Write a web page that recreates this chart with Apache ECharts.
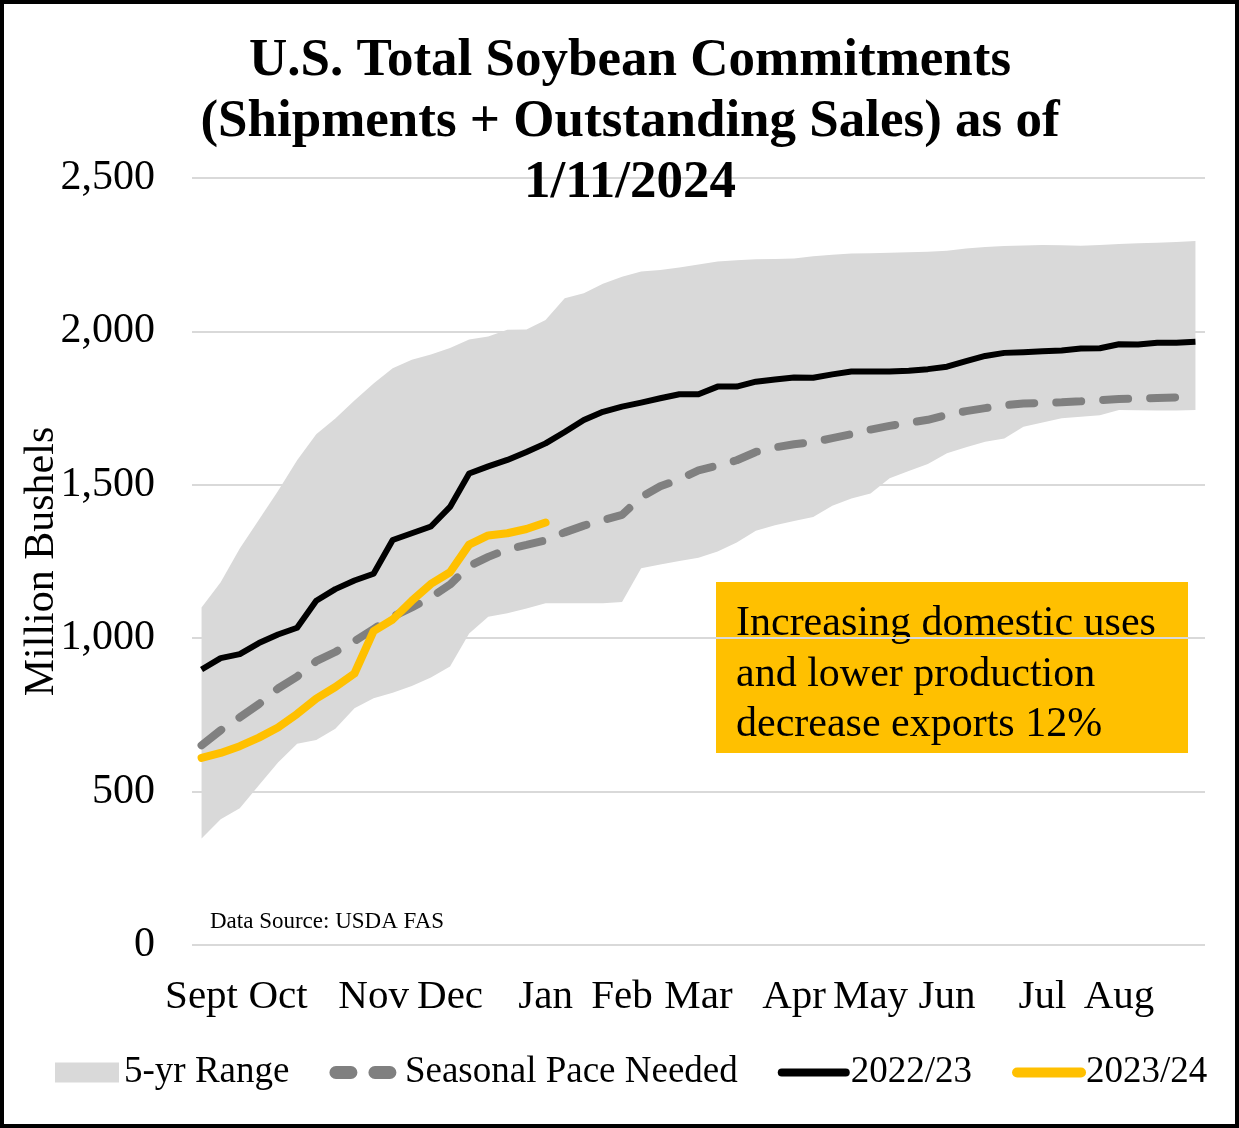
<!DOCTYPE html>
<html>
<head>
<meta charset="utf-8">
<script src="https://cdn.jsdelivr.net/npm/echarts@6/dist/echarts.min.js"></script>
<style>
  html, body { margin: 0; padding: 0; background: #fff; }
  #wrap { position: relative; width: 1239px; height: 1128px; }
  #chart { position: absolute; left: 0; top: 0; width: 1239px; height: 1128px; }
  #frame { position: absolute; left: 0; top: 0; width: 1239px; height: 1128px; box-sizing: border-box; border: 4px solid #000; pointer-events: none; }
</style>
</head>
<body>
<div id="wrap"><div id="chart"></div><div id="frame"></div></div>
<script>
// Weekly categories of the marketing year (Sept .. Aug)
const weeks = ['W1','W2','W3','W4','W5','W6','W7','W8','W9','W10','W11','W12','W13','W14','W15','W16','W17','W18','W19','W20','W21','W22','W23','W24','W25','W26','W27','W28','W29','W30','W31','W32','W33','W34','W35','W36','W37','W38','W39','W40','W41','W42','W43','W44','W45','W46','W47','W48','W49','W50','W51','W52','W53'];
// Month tick labels and the week index where each appears
const monthLabels = ['Sept','Oct','Nov','Dec','Jan','Feb','Mar','Apr','May','Jun','Jul','Aug'];
const monthWeekIndex = [0,4,9,13,18,22,26,31,35,39,44,48];
// Y axis ticks
const yTicks = [0, 500, 1000, 1500, 2000, 2500];

// 5-year range (million bushels)
const rangeLow = [347,410,446,521,595,656,668,705,772,804,822,844,872,908,1015,1070,1081,1097,1114,1114,1114,1114,1118,1228,1240,1252,1262,1283,1312,1350,1368,1382,1395,1432,1455,1472,1521,1545,1568,1603,1622,1640,1651,1689,1703,1717,1722,1727,1744,1743,1742,1742,1744];
const rangeHigh = [1100,1182,1292,1386,1480,1580,1665,1716,1775,1830,1880,1908,1925,1946,1974,1983,2005,2006,2037,2108,2124,2155,2178,2195,2200,2208,2218,2228,2232,2235,2236,2238,2245,2250,2254,2255,2256,2258,2260,2263,2270,2275,2278,2280,2282,2281,2279,2282,2285,2287,2289,2291,2295];
// Seasonal pace needed
const seasonalPace = [651,700,742,785,836,875,925,955,990,1030,1070,1100,1133,1175,1235,1265,1290,1304,1319,1345,1367,1385,1402,1460,1495,1518,1547,1563,1580,1607,1622,1632,1639,1652,1665,1680,1692,1702,1712,1728,1740,1750,1759,1765,1767,1769,1772,1776,1780,1781,1783,1785,1787];
// 2022/23 commitments
const my2022 = [898,935,948,984,1012,1034,1122,1160,1188,1210,1320,1342,1364,1428,1537,1560,1581,1607,1635,1672,1711,1738,1755,1768,1782,1795,1795,1820,1820,1836,1843,1850,1849,1860,1869,1869,1869,1872,1877,1885,1903,1920,1930,1932,1935,1938,1944,1945,1958,1957,1963,1963,1966];
// 2023/24 commitments (through 1/11/2024)
const my2023 = [610,626,648,676,709,753,803,841,885,1023,1061,1122,1177,1215,1305,1335,1342,1356,1377];

const FONT = "'Liberation Serif', 'Times New Roman', serif";
const rangeSpan = rangeHigh.map((h, i) => h - rangeLow[i]);
const noSymbol = { color: 'rgba(0,0,0,0)', opacity: 0 };

const chart = echarts.init(document.getElementById('chart'), null, { renderer: 'canvas' });
chart.setOption({
  animation: false,
  backgroundColor: '#ffffff',
  textStyle: { fontFamily: FONT },
  title: {
    text: 'U.S. Total Soybean Commitments\n(Shipments + Outstanding Sales) as of\n1/11/2024',
    left: 630,
    top: 31,
    padding: 0,
    textAlign: 'center',
    textVerticalAlign: 'top',
    textStyle: { fontFamily: FONT, fontSize: 53, fontWeight: 'bold', color: '#000', lineHeight: 61 }
  },
  grid: { left: 192, right: 34, top: 178, bottom: 183, containLabel: false },
  legend: {
    left: 55,
    top: 1054,
    padding: 0,
    width: 1180,
    itemWidth: 64,
    itemHeight: 20,
    itemGap: 40,
    textStyle: { fontFamily: FONT, fontSize: 37, color: '#000' },
    data: [
      { name: '5-yr Range', icon: 'rect', itemStyle: { color: '#D9D9D9' } },
      { name: 'Seasonal Pace Needed', itemStyle: noSymbol, lineStyle: { width: 13, type: [15, 24], cap: 'round', color: '#808080' } },
      { name: '2022/23', itemStyle: noSymbol, lineStyle: { width: 8, cap: 'round', color: '#000' } },
      { name: '2023/24', itemStyle: noSymbol, lineStyle: { width: 10, cap: 'round', color: '#FFC000' } }
    ]
  },
  xAxis: {
    type: 'category',
    data: weeks,
    boundaryGap: true,
    axisLine: { show: false },
    axisTick: { show: false },
    splitLine: { show: false },
    axisLabel: {
      interval: (idx) => monthWeekIndex.indexOf(idx) >= 0,
      formatter: (val, idx) => {
        const k = monthWeekIndex.indexOf(idx);
        return k >= 0 ? monthLabels[k] : '';
      },
      fontFamily: FONT, fontSize: 41, color: '#000', margin: 32
    }
  },
  yAxis: {
    type: 'value',
    min: yTicks[0],
    max: yTicks[yTicks.length - 1],
    interval: 500,
    name: 'Million Bushels',
    nameLocation: 'middle',
    nameGap: 129,
    nameMoveOverlap: false,
    nameRotate: 90,
    nameTextStyle: { fontFamily: FONT, fontSize: 42, color: '#000' },
    axisLine: { show: false },
    axisTick: { show: false },
    splitLine: { lineStyle: { color: '#D9D9D9', width: 2 } },
    axisLabel: {
      fontFamily: FONT, fontSize: 42, color: '#000', margin: 37,
      formatter: (v) => v.toLocaleString('en-US')
    }
  },
  graphic: [
    {
      type: 'group',
      left: 716, top: 582,
      children: [
        { type: 'rect', shape: { x: 0, y: 0, width: 472, height: 171 }, style: { fill: '#FFC000' } },
        { type: 'text', x: 20, y: 17, style: {
            text: 'Increasing domestic uses\nand lower production\ndecrease exports 12%',
            font: '42px ' + FONT, fill: '#000', lineHeight: 50.5, textVerticalAlign: 'top'
          } }
      ]
    },
    {
      type: 'text', left: 210, top: 910,
      style: { text: 'Data Source: USDA FAS', font: '23px ' + FONT, fill: '#000' }
    }
  ],
  series: [
    {
      name: 'rangeBase', type: 'line', stack: 'range', data: rangeLow,
      symbol: 'none', silent: true, lineStyle: { opacity: 0, width: 0 }, z: 1
    },
    {
      name: '5-yr Range', type: 'line', stack: 'range', data: rangeSpan,
      symbol: 'none', silent: true, lineStyle: { opacity: 0, width: 0 },
      itemStyle: { color: '#D9D9D9' },
      areaStyle: { color: '#D9D9D9', opacity: 1 }, z: 1
    },
    {
      name: 'Seasonal Pace Needed', type: 'line', data: seasonalPace, symbol: 'none',
      itemStyle: { color: '#808080' },
      lineStyle: { color: '#808080', width: 8, type: [25, 22], cap: 'round' }, z: 3
    },
    {
      name: '2022/23', type: 'line', data: my2022, symbol: 'none',
      itemStyle: { color: '#000' },
      lineStyle: { color: '#000', width: 6, join: 'round' }, z: 4
    },
    {
      name: '2023/24', type: 'line', data: my2023, symbol: 'none',
      itemStyle: { color: '#FFC000' },
      lineStyle: { color: '#FFC000', width: 8, cap: 'round', join: 'round' }, z: 5
    }
  ]
});
</script>
</body>
</html>
